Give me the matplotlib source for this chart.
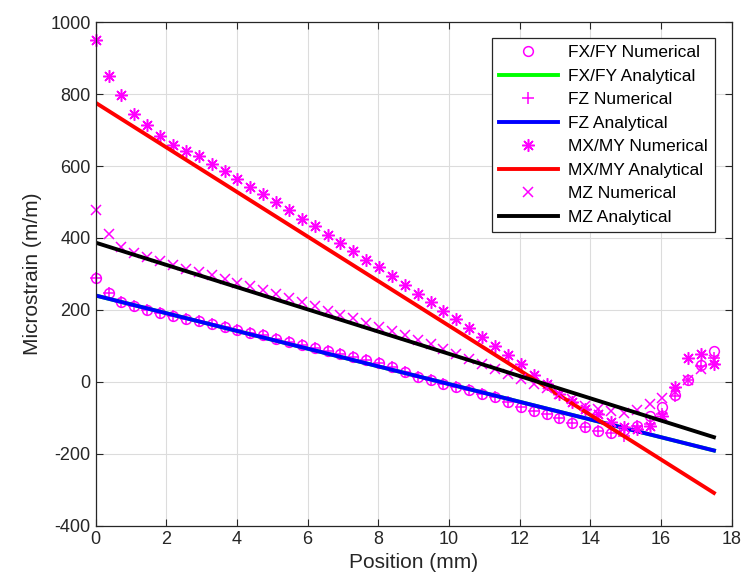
import numpy as np
import matplotlib
matplotlib.use('Agg')
import matplotlib.pyplot as plt

plt.rcParams['font.family'] = ['Liberation Sans', 'DejaVu Sans']
plt.rcParams['axes.unicode_minus'] = False

# sample positions (mm), 49 evenly spaced nodes
pos = np.linspace(0, 17.5, 49)

fxfy_num = [288, 247, 222, 210, 200, 192, 184, 175, 168, 161, 153, 144, 137, 129, 120, 111,
            103, 95, 86, 78, 69, 61, 52, 42, 28, 14, 4, -5, -14, -24, -33, -42,
            -56, -70, -82, -89, -100, -115, -126, -136, -141, -133, -122, -95, -70, -38, 5, 48, 85]
fz_num = [288, 247, 222, 210, 200, 192, 184, 175, 168, 161, 153, 144, 137, 129, 120, 111,
          103, 95, 86, 78, 69, 61, 52, 42, 28, 14, 4, -5, -14, -24, -33, -42,
          -56, -70, -82, -89, -100, -115, -126, -136, -141, -150, -124, -118, -90, -40, 5, 44, 66]
mxmy_num = [952, 850, 797, 746, 714, 685, 660, 643, 627, 605, 585, 563, 543, 521, 500, 477,
            454, 432, 409, 386, 363, 340, 319, 295, 268, 243, 221, 198, 175, 151, 125, 100,
            75, 50, 20, -6, -33, -56, -75, -89, -112, -126, -131, -122, -94, -14, 66, 78, 50]
mz_num = [479, 412, 376, 358, 347, 336, 324, 314, 305, 296, 287, 276, 267, 256, 245, 234,
          222, 210, 198, 187, 177, 164, 152, 141, 129, 117, 104, 90, 76, 64, 50, 36,
          22, 8, -6, -17, -34, -48, -66, -76, -82, -86, -77, -62, -46, -29, 4, 36, 60]

# analytical solutions (straight lines, end points)
ana_x = [0, 17.5]
fxfy_ana = [240, -191]
fz_ana = [240, -191]
mxmy_ana = [776, -309]
mz_ana = [387, -154]

mag = '#ff00ff'
fig = plt.figure(figsize=(7.42, 5.86), dpi=100)
ax = fig.add_axes([0.129, 0.103, 0.857, 0.859])

ax.plot(pos, fxfy_num, 'o', mfc='none', mec=mag, ms=7, mew=1.1, ls='none', clip_on=False, label='FX/FY Numerical')
ax.plot(ana_x, fxfy_ana, color='#00ff00', lw=2.8, label='FX/FY Analytical')
ax.plot(pos, fz_num, '+', color=mag, ms=8, mew=1.1, ls='none', clip_on=False, label='FZ Numerical')
ax.plot(ana_x, fz_ana, color='#0000ff', lw=2.8, label='FZ Analytical')
ax.plot(pos, mxmy_num, marker=(8, 2, 0), color=mag, ms=9, mew=1.1, ls='none', clip_on=False, label='MX/MY Numerical')
ax.plot(ana_x, mxmy_ana, color='#ff0000', lw=2.8, label='MX/MY Analytical')
ax.plot(pos, mz_num, 'x', color=mag, ms=7, mew=1.1, ls='none', clip_on=False, label='MZ Numerical')
ax.plot(ana_x, mz_ana, color='black', lw=2.8, label='MZ Analytical')

ax.set_xlim(0, 18)
ax.set_ylim(-400, 1000)
ax.set_xticks(range(0, 19, 2))
ax.set_yticks(range(-400, 1001, 200))
ax.grid(True, color='#dcdcdc', lw=0.8)
ax.set_axisbelow(True)
ax.tick_params(direction='in', top=True, right=True, labelsize=13, colors='#262626', length=5)
for s in ax.spines.values():
    s.set_color('#262626')
    s.set_linewidth(0.9)

ax.set_xlabel('Position (mm)', fontsize=15, color='#262626', labelpad=4)
ax.set_ylabel('Microstrain (m/m)', fontsize=15, color='#262626', labelpad=6)

leg = ax.legend(loc='upper right', bbox_to_anchor=(0.974, 0.968), borderaxespad=0,
                fontsize=12.5, fancybox=False, framealpha=1, edgecolor='#262626',
                handlelength=3.4, labelspacing=0.48, borderpad=0.4, handletextpad=0.6)
leg.get_frame().set_linewidth(0.9)

fig.savefig('out.png', dpi=100)
